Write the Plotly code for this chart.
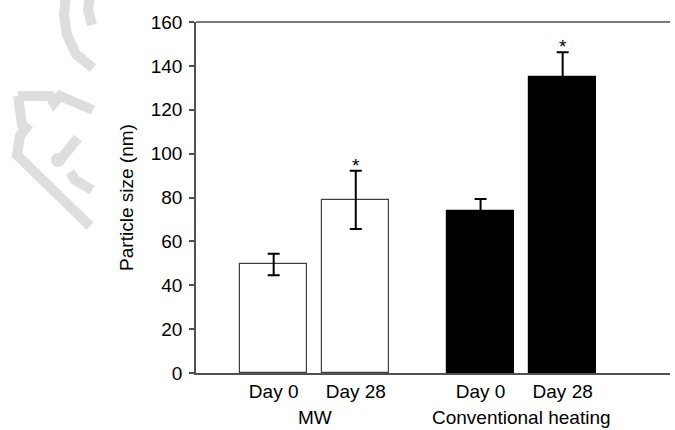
import plotly.graph_objects as go

# Particle size measurements (mean ± SD) for two preparation methods
groups = ["MW", "Conventional heating"]
days = ["Day 0", "Day 28"]
mw_size = [49.5, 78.9]
mw_sd = [4.9, 13.3]
ch_size = [74.0, 134.9]
ch_sd = [5.3, 11.3]
significant = [[False, True], [False, True]]

# layout of categories along the x axis: groups separated by a wider gap
GROUP_STEP = 2.52
positions = [[g * GROUP_STEP + d for d in range(len(days))] for g in range(len(groups))]

FONT = "Liberation Sans, Arial, sans-serif"
FS = 19
AXIS_COLOR = "#505050"

# plot area in pixels
L, T, B, R = 196.0, 22.0, 373.0, 670.0
W, H = R - L, B - T
X_LEFT, X_STEP = -0.946, 1 / 82.1   # axis units per pixel
x_range = [X_LEFT, X_LEFT + W * X_STEP]

fig = go.Figure()

series = [
    (mw_size, mw_sd, "white", "#404040"),
    (ch_size, ch_sd, "black", "black"),
]
for g, (vals, sds, fill, edge) in enumerate(series):
    fig.add_trace(go.Bar(
        x=positions[g],
        y=vals,
        width=0.82,
        marker=dict(color=fill, line=dict(color=edge, width=1.2)),
        error_y=dict(type="data", array=sds, visible=True,
                     color="black", thickness=2, width=6),
        showlegend=False,
        hoverinfo="skip",
    ))
    # significance markers above the error bars
    for d, (v, s) in enumerate(zip(vals, sds)):
        if significant[g][d]:
            fig.add_annotation(x=positions[g][d], y=v + s, text="*",
                               showarrow=False, yanchor="bottom", yshift=-7,
                               font=dict(family=FONT, size=FS, color="black"))
    # group label under the day labels
    fig.add_annotation(x=sum(positions[g]) / len(positions[g]), y=-0.128,
                       xref="x", yref="paper", text=groups[g], showarrow=False,
                       yanchor="middle",
                       font=dict(family=FONT, size=FS, color="black"))

tick_pos = [p for row in positions for p in row]
tick_txt = [d for _ in groups for d in days]

fig.update_xaxes(
    range=x_range,
    tickmode="array", tickvals=tick_pos, ticktext=tick_txt,
    ticks="", showgrid=False, zeroline=False,
    showline=True, linecolor=AXIS_COLOR, linewidth=1.5, mirror=False,
    tickfont=dict(family=FONT, size=FS, color="black"),
)
fig.update_yaxes(
    range=[0, 160], dtick=20,
    ticks="outside", ticklen=5, tickwidth=1.5, tickcolor=AXIS_COLOR,
    ticklabelstandoff=3,
    showgrid=False, zeroline=False, mirror=False,
    showline=True, linecolor=AXIS_COLOR, linewidth=1.5,
    tickfont=dict(family=FONT, size=FS, color="black"),
    title=dict(text="Particle size (nm)", standoff=12,
               font=dict(family=FONT, size=FS, color="black")),
)

# top frame line running to the right edge
fig.add_shape(type="line", xref="paper", yref="paper", x0=0, x1=1, y0=1, y1=1,
              line=dict(color=AXIS_COLOR, width=1.5))


def px(x, y):
    return (x - L) / W, (B - y) / H


def path(points, close=False):
    pts = [px(x, y) for x, y in points]
    s = "M " + " L ".join(f"{a:.4f},{b:.4f}" for a, b in pts)
    return s + (" Z" if close else "")


# faint emblem in the left margin
EMB = "#dedede"
emblem_paths = [
    [(66, -5), (64, 15), (67, 35), (76, 54), (93, 68)],
    [(90, -5), (88, 10), (92, 25)],
    [(18, 96), (50, 96), (54, 103), (60, 96), (93, 110)],
    [(18, 96), (22, 125), (26, 128), (20, 136), (17, 155), (90, 226)],
    [(60, 160), (78, 138)],
    [(70, 172), (75, 180), (92, 190)],
]
for pts in emblem_paths:
    fig.add_shape(type="path", path=path(pts), xref="paper", yref="paper",
                  line=dict(color=EMB, width=10), layer="below")
cx, cy = px(58, 160)
fig.add_shape(type="circle", xref="paper", yref="paper",
              x0=cx - 7 / W, x1=cx + 7 / W, y0=cy - 7 / H, y1=cy + 7 / H,
              fillcolor=EMB, line=dict(width=0), layer="below")

fig.update_layout(
    width=675, height=430,
    margin=dict(l=L, r=675 - R, t=T, b=430 - B),
    plot_bgcolor="white", paper_bgcolor="white",
    bargap=0,
)

fig.write_html("out.html")
